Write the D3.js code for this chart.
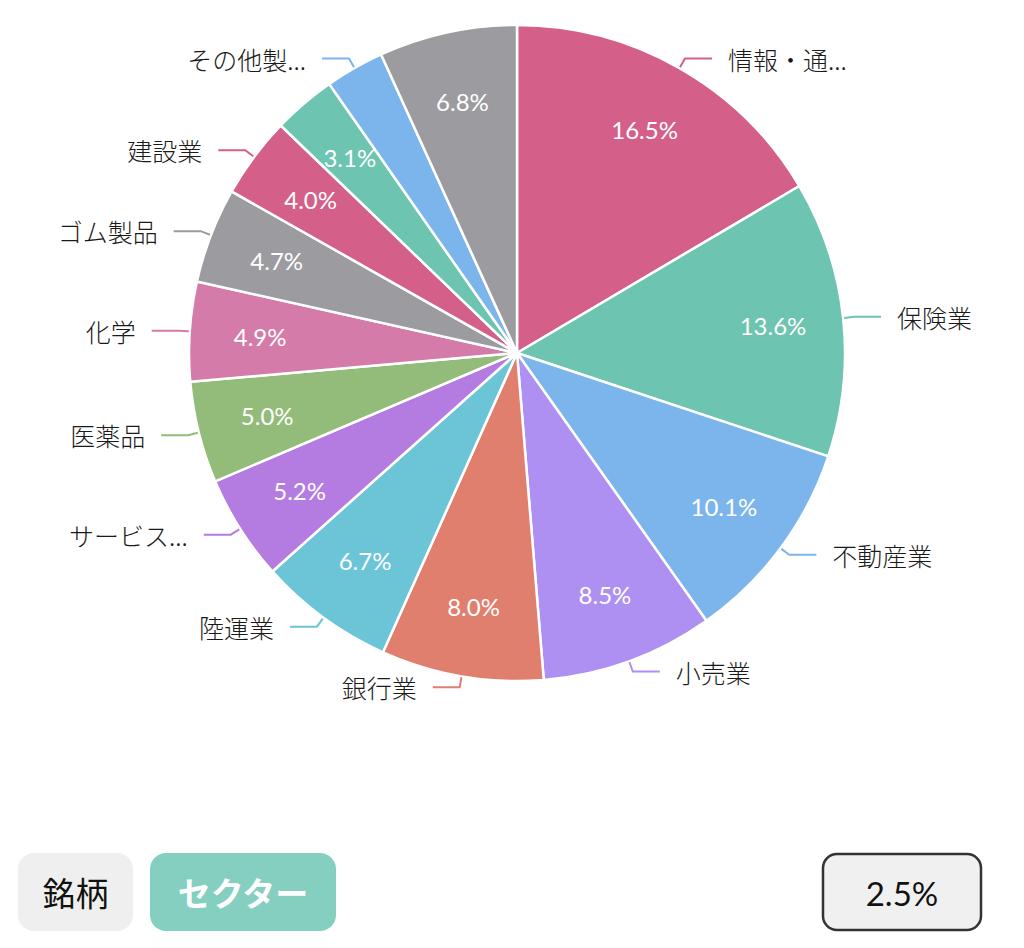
<!DOCTYPE html>
<html>
<head>
<meta charset="utf-8">
<script src="https://cdn.jsdelivr.net/npm/d3@7"></script>
<style>
  html, body { margin: 0; padding: 0; background: #ffffff; }
  svg { display: block; }
</style>
</head>
<body>
<svg id="chart" width="1024" height="948"></svg>
<script>
// ---- data ----
const categories = ["情報・通...", "保険業", "不動産業", "小売業", "銀行業", "陸運業", "サービス...", "医薬品", "化学", "ゴム製品", "建設業", "", "その他製...", ""];
const values = [16.5, 13.6, 10.1, 8.5, 8.0, 6.7, 5.2, 5.0, 4.9, 4.7, 4.0, 3.1, 2.9, 6.8];
const showPercent = [true, true, true, true, true, true, true, true, true, true, true, true, false, true];
const colors = ["#D4608A", "#6DC4B0", "#7BB5EC", "#AE8FF2", "#E07F6E", "#6CC4D7", "#B47BE0", "#93BC7A", "#D57BA9", "#9C9BA0", "#D4608A", "#6DC4B0", "#7BB5EC", "#9C9BA0"];
const tabLabels = ["銘柄", "セクター"];
const thresholdLabel = "2.5%";

// ---- layout ----
const svg = d3.select("#chart");
const cx = 517, cy = 353, R = 328;
const g = svg.append("g").attr("transform", `translate(${cx},${cy})`);

const data = values.map((v, i) => ({ name: categories[i], value: v, color: colors[i], pct: showPercent[i] }));
const pie = d3.pie().value(d => d.value).sort(null);
const arcs = pie(data);
const arc = d3.arc().innerRadius(0).outerRadius(R);

g.selectAll("path.slice").data(arcs).enter().append("path")
  .attr("class", "slice")
  .attr("d", arc)
  .attr("fill", d => d.data.color)
  .attr("stroke", "#ffffff")
  .attr("stroke-width", 2.5)
  .attr("stroke-linejoin", "round");

// percent labels
const inner = d3.arc().innerRadius(R * 0.785).outerRadius(R * 0.785);
g.selectAll("text.pct").data(arcs.filter(d => d.data.pct)).enter().append("text")
  .attr("class", "pct")
  .attr("x", d => inner.centroid(d)[0])
  .attr("y", d => inner.centroid(d)[1])
  .attr("text-anchor", "middle")
  .attr("dominant-baseline", "central")
  .attr("fill", "#ffffff")
  .style("font-family", "Lato, 'Noto Sans', sans-serif")
  .style("font-size", "24px")
  .text(d => d.data.value.toFixed(1) + "%");

// outer labels with leader lines
const len2 = 27, gap = 16;
const labeled = arcs.filter(d => d.data.name);
labeled.forEach(d => {
  const mid = (d.startAngle + d.endAngle) / 2;
  const sx = Math.sin(mid), sy = -Math.cos(mid);
  const p0 = [sx * (R + 1), sy * (R + 1)];
  const p1 = [sx * (R + 11), sy * (R + 11)];
  const right = sx >= 0;
  const p2 = [p1[0] + (right ? len2 : -len2), p1[1]];
  g.append("polyline")
    .attr("points", [p0, p1, p2].map(p => p.join(",")).join(" "))
    .attr("fill", "none")
    .attr("stroke", d.data.color)
    .attr("stroke-width", 2);
  g.append("text")
    .attr("x", p2[0] + (right ? gap : -gap))
    .attr("y", p2[1])
    .attr("text-anchor", right ? "start" : "end")
    .attr("dominant-baseline", "central")
    .attr("fill", "#1a1a1a")
    .style("font-family", "'Noto Sans CJK JP', sans-serif")
    .style("font-size", "25px")
    .style("font-weight", "300")
    .text(d.data.name);
});

// ---- bottom controls ----
const tabs = [
  { x: 18, w: 115, fill: "#EFEFEF", color: "#111111", weight: "400" },
  { x: 150, w: 186, fill: "#84CFBF", color: "#ffffff", weight: "700" }
];
tabs.forEach((t, i) => {
  svg.append("rect").attr("x", t.x).attr("y", 853).attr("width", t.w).attr("height", 78)
    .attr("rx", 16).attr("fill", t.fill);
  svg.append("text").attr("x", t.x + t.w / 2).attr("y", 892)
    .attr("text-anchor", "middle").attr("dominant-baseline", "central")
    .attr("fill", t.color)
    .style("font-family", "'Noto Sans CJK JP', sans-serif")
    .style("font-size", "33px").style("font-weight", t.weight)
    .text(tabLabels[i]);
});
svg.append("rect").attr("x", 823).attr("y", 854).attr("width", 158).attr("height", 76)
  .attr("rx", 14).attr("fill", "#F0F0F0").attr("stroke", "#333333").attr("stroke-width", 2.5);
svg.append("text").attr("x", 902).attr("y", 893)
  .attr("text-anchor", "middle").attr("dominant-baseline", "central")
  .attr("fill", "#111111")
  .style("font-family", "Lato, sans-serif").style("font-size", "33px")
  .text(thresholdLabel);
</script>
</body>
</html>
